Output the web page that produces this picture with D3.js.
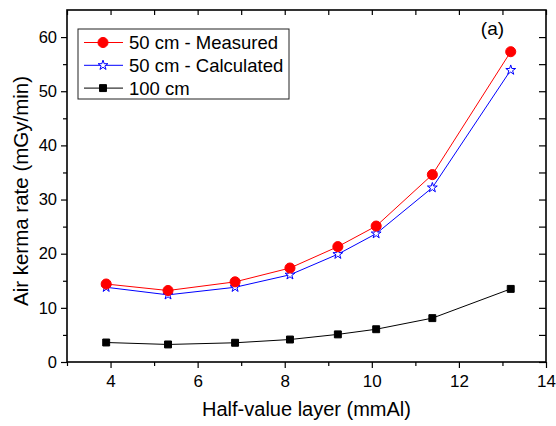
<!DOCTYPE html>
<html>
<head>
    <script src="https://d3js.org/d3.v7.min.js"></script>
    <style>
        body { margin: 0; background: #fff; }
        text { font-family: Arial, "Liberation Sans", sans-serif; }
        .axis path { display: none; }
        .axis line { stroke: #000; stroke-width: 1.2px; }
        .axis text { fill: #000; }
        .xaxis text { font-size: 17px; }
        .yaxis text { font-size: 16.5px; }
    </style>
</head>
<body>
    <div id="chart"></div>

    <script>
        // Data
        const hvl = [3.9, 5.32, 6.86, 8.12, 9.22, 10.1, 11.39, 13.19];
        const measured50 = [14.4, 13.2, 14.8, 17.35, 21.3, 25.1, 34.6, 57.3];
        const calculated50 = [13.8, 12.4, 13.8, 16.1, 19.9, 23.7, 32.2, 53.9];
        const dist100 = [3.6, 3.24, 3.55, 4.15, 5.1, 6.05, 8.1, 13.5];

        const xMajor = [4, 6, 8, 10, 12, 14];
        const xMinor = [3, 5, 7, 9, 11, 13];
        const yMajor = [0, 10, 20, 30, 40, 50, 60];
        const yMinor = [5, 15, 25, 35, 45, 55];

        const seriesNames = ["50 cm - Measured", "50 cm - Calculated", "100 cm"];

        const width = 556, height = 426;
        const margin = { top: 10, right: 10, bottom: 64, left: 67 };
        const innerW = width - margin.left - margin.right;
        const innerH = height - margin.top - margin.bottom;

        const svg = d3.select("#chart")
            .append("svg")
            .attr("width", width)
            .attr("height", height);

        const g = svg.append("g")
            .attr("transform", `translate(${margin.left},${margin.top})`);

        const x = d3.scaleLinear().domain([3, 14]).range([0, innerW]);
        const y = d3.scaleLinear().domain([0, 65]).range([innerH, 0]);

        // bottom axis: majors with labels, minors without
        g.append("g").attr("class", "axis xaxis")
            .attr("transform", `translate(0,${innerH})`)
            .call(d3.axisBottom(x).tickValues(xMajor).tickSize(6).tickPadding(7).tickFormat(d3.format("d")));
        g.append("g").attr("class", "axis")
            .attr("transform", `translate(0,${innerH})`)
            .call(d3.axisBottom(x).tickValues(xMinor).tickSize(4).tickFormat(""));

        // left axis
        g.append("g").attr("class", "axis yaxis")
            .call(d3.axisLeft(y).tickValues(yMajor).tickSize(6).tickPadding(4).tickFormat(d3.format("d")));
        g.append("g").attr("class", "axis")
            .call(d3.axisLeft(y).tickValues(yMinor).tickSize(4).tickFormat(""));

        // top axis, inward ticks every unit
        g.append("g").attr("class", "axis")
            .call(d3.axisTop(x).tickValues(d3.range(3, 15)).tickSize(-5).tickFormat(""));

        // right axis, inward ticks every 5
        g.append("g").attr("class", "axis")
            .attr("transform", `translate(${innerW},0)`)
            .call(d3.axisRight(y).tickValues(yMajor.concat(yMinor)).tickSize(-7).tickFormat(""));

        // frame
        g.append("rect")
            .attr("width", innerW)
            .attr("height", innerH)
            .attr("fill", "none")
            .attr("stroke", "#000")
            .attr("stroke-width", 1.6);

        const line = d3.line()
            .x(d => x(d[0]))
            .y(d => y(d[1]));

        const series = [
            { name: seriesNames[0], values: measured50, color: "#ff0000", symbol: d3.symbolCircle, size: 80, fill: "#ff0000" },
            { name: seriesNames[1], values: calculated50, color: "#0000ff", symbol: d3.symbolStar, size: 30, fill: "#fff" },
            { name: seriesNames[2], values: dist100, color: "#000", symbol: d3.symbolSquare, size: 48, fill: "#000" }
        ];

        series.slice().reverse().forEach(s => {
            const pts = hvl.map((h, i) => [h, s.values[i]]);
            g.append("path")
                .datum(pts)
                .attr("fill", "none")
                .attr("stroke", s.color)
                .attr("stroke-width", 1)
                .attr("d", line);
            g.selectAll(null)
                .data(pts)
                .enter()
                .append("path")
                .attr("transform", d => `translate(${x(d[0])},${y(d[1])})`)
                .attr("d", d3.symbol().type(s.symbol).size(s.size))
                .attr("fill", s.fill)
                .attr("stroke", s.color)
                .attr("stroke-width", 1);
        });

        // legend
        const legend = g.append("g").attr("transform", "translate(11,19)");
        legend.append("rect")
            .attr("width", 211)
            .attr("height", 70)
            .attr("fill", "#fff")
            .attr("stroke", "#222")
            .attr("stroke-width", 1);
        series.forEach((s, i) => {
            const row = legend.append("g").attr("transform", `translate(0,${13.5 + i * 22.8})`);
            row.append("line")
                .attr("x1", 6).attr("x2", 45)
                .attr("stroke", s.color).attr("stroke-width", 1);
            row.append("path")
                .attr("transform", "translate(25,0)")
                .attr("d", d3.symbol().type(s.symbol).size(s.size))
                .attr("fill", s.fill)
                .attr("stroke", s.color)
                .attr("stroke-width", 1);
            row.append("text")
                .attr("x", 51)
                .attr("dy", "0.35em")
                .attr("font-size", 18.5)
                .text(s.name);
        });

        // panel label
        g.append("text")
            .attr("x", x(12.77))
            .attr("y", 25)
            .attr("text-anchor", "middle")
            .attr("font-size", 19)
            .text("(a)");

        // axis titles
        svg.append("text")
            .attr("x", margin.left + innerW / 2)
            .attr("y", 416)
            .attr("text-anchor", "middle")
            .attr("font-size", 20)
            .text("Half-value layer (mmAl)");

        svg.append("text")
            .attr("transform", `translate(28,191) rotate(-90)`)
            .attr("text-anchor", "middle")
            .attr("font-size", 20.5)
            .text("Air kerma rate (mGy/min)");
    </script>
</body>
</html>
